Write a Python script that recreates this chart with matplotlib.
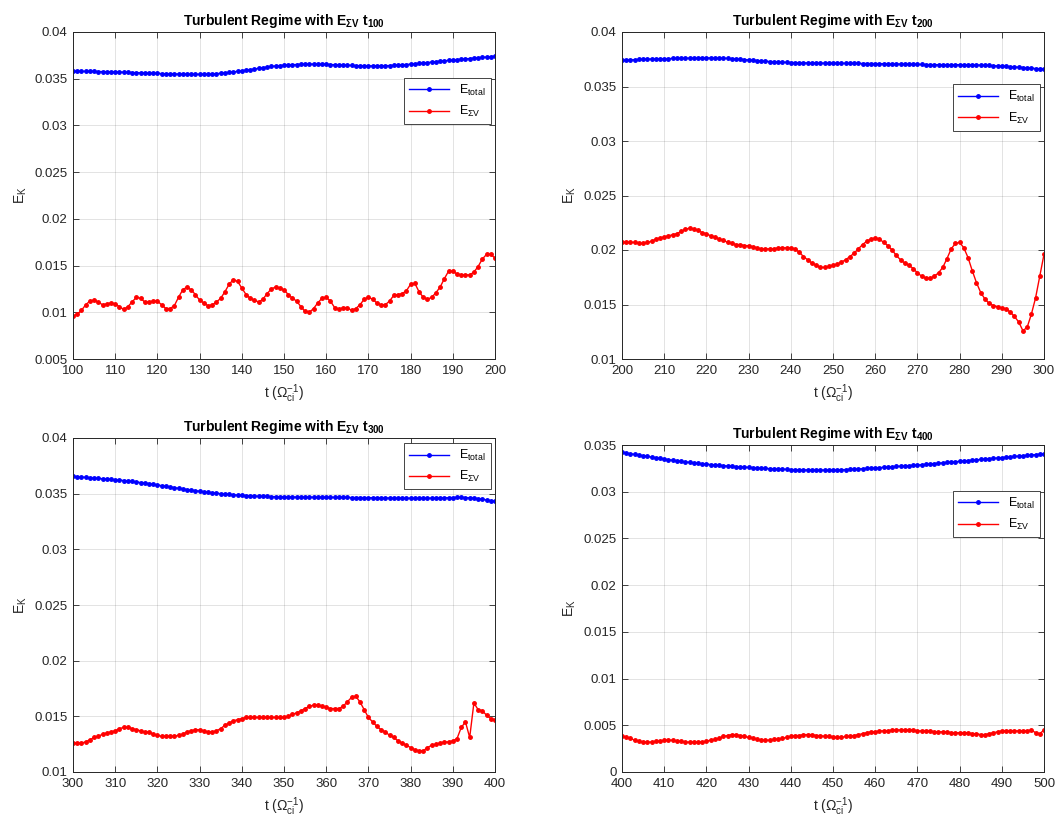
import numpy as np
import matplotlib
matplotlib.use('Agg')
import matplotlib.pyplot as plt
from matplotlib.ticker import MultipleLocator, FuncFormatter

plt.rcParams['font.family'] = ['Liberation Sans', 'DejaVu Sans']
plt.rcParams['mathtext.fontset'] = 'custom'
plt.rcParams['mathtext.rm'] = 'Liberation Sans'
plt.rcParams['mathtext.it'] = 'Liberation Sans'
plt.rcParams['mathtext.bf'] = 'Liberation Sans:bold'

# start time of each window (one sample per unit of time, 101 samples)
t_starts = [100, 200, 300, 400]

e_total_100 = [
    0.03580, 0.03580, 0.03579, 0.03579, 0.03578, 0.03578, 0.03577, 0.03576, 0.03575, 0.03574,
    0.03573, 0.03571, 0.03570, 0.03568, 0.03566, 0.03565, 0.03563, 0.03561, 0.03559, 0.03558,
    0.03557, 0.03555, 0.03553, 0.03552, 0.03551, 0.03550, 0.03549, 0.03548, 0.03547, 0.03547,
    0.03547, 0.03548, 0.03549, 0.03551, 0.03554, 0.03558, 0.03562, 0.03567, 0.03573, 0.03579,
    0.03585, 0.03591, 0.03597, 0.03604, 0.03611, 0.03618, 0.03625, 0.03631, 0.03636, 0.03640,
    0.03644, 0.03647, 0.03650, 0.03652, 0.03654, 0.03655, 0.03656, 0.03656, 0.03656, 0.03655,
    0.03654, 0.03652, 0.03650, 0.03648, 0.03646, 0.03644, 0.03642, 0.03640, 0.03639, 0.03638,
    0.03637, 0.03637, 0.03637, 0.03638, 0.03639, 0.03641, 0.03643, 0.03646, 0.03649, 0.03652,
    0.03656, 0.03660, 0.03664, 0.03668, 0.03673, 0.03678, 0.03683, 0.03688, 0.03692, 0.03696,
    0.03700, 0.03704, 0.03708, 0.03712, 0.03716, 0.03720, 0.03724, 0.03728, 0.03732, 0.03736,
    0.03740]
e_sv_100 = [
    0.0096, 0.0098, 0.0102, 0.0108, 0.0112, 0.0113, 0.0111, 0.0108, 0.0109, 0.0110,
    0.0109, 0.0106, 0.0103, 0.0106, 0.0111, 0.0116, 0.0115, 0.0111, 0.0111, 0.0112,
    0.0112, 0.0108, 0.0104, 0.0104, 0.0107, 0.0116, 0.0124, 0.0127, 0.0124, 0.0119,
    0.0113, 0.0110, 0.0107, 0.0108, 0.0111, 0.0115, 0.0122, 0.0130, 0.0135, 0.0133,
    0.0126, 0.0119, 0.0115, 0.0113, 0.0111, 0.0114, 0.0120, 0.0125, 0.0127, 0.0126,
    0.0124, 0.0119, 0.0115, 0.0112, 0.0106, 0.0101, 0.0100, 0.0104, 0.0110, 0.0115,
    0.0116, 0.0112, 0.0105, 0.0103, 0.0105, 0.0105, 0.0102, 0.0104, 0.0108, 0.0114,
    0.0116, 0.0114, 0.0110, 0.0108, 0.0108, 0.0112, 0.0118, 0.0119, 0.0120, 0.0123,
    0.0130, 0.0131, 0.0122, 0.0116, 0.0114, 0.0116, 0.0121, 0.0127, 0.0136, 0.0144,
    0.0144, 0.0141, 0.0140, 0.0140, 0.0140, 0.0143, 0.0149, 0.0157, 0.0162, 0.0162,
    0.0158]

e_total_200 = [
    0.03740, 0.03742, 0.03744, 0.03746, 0.03748, 0.03750, 0.03751, 0.03752, 0.03753, 0.03754,
    0.03755, 0.03756, 0.03757, 0.03758, 0.03759, 0.03760, 0.03760, 0.03761, 0.03761, 0.03762,
    0.03762, 0.03762, 0.03761, 0.03760, 0.03759, 0.03758, 0.03756, 0.03753, 0.03750, 0.03747,
    0.03744, 0.03741, 0.03738, 0.03735, 0.03732, 0.03729, 0.03727, 0.03725, 0.03723, 0.03721,
    0.03720, 0.03719, 0.03718, 0.03717, 0.03716, 0.03715, 0.03715, 0.03714, 0.03714, 0.03714,
    0.03713, 0.03713, 0.03713, 0.03712, 0.03712, 0.03712, 0.03712, 0.03711, 0.03711, 0.03710,
    0.03710, 0.03709, 0.03709, 0.03708, 0.03707, 0.03706, 0.03706, 0.03705, 0.03704, 0.03703,
    0.03703, 0.03702, 0.03701, 0.03701, 0.03700, 0.03700, 0.03700, 0.03700, 0.03700, 0.03700,
    0.03700, 0.03699, 0.03699, 0.03698, 0.03697, 0.03696, 0.03695, 0.03693, 0.03691, 0.03689,
    0.03687, 0.03685, 0.03682, 0.03679, 0.03677, 0.03674, 0.03671, 0.03668, 0.03665, 0.03662,
    0.03659]
e_sv_200 = [
    0.0207, 0.0207, 0.0207, 0.0207, 0.0206, 0.0206, 0.0207, 0.0208, 0.0210, 0.0211,
    0.0212, 0.0213, 0.0214, 0.0215, 0.0217, 0.0219, 0.0220, 0.0219, 0.0218, 0.0216,
    0.0215, 0.0213, 0.0212, 0.0210, 0.0209, 0.0207, 0.0206, 0.0205, 0.0205, 0.0204,
    0.0204, 0.0203, 0.0202, 0.0201, 0.0201, 0.0201, 0.0201, 0.0202, 0.0202, 0.0202,
    0.0202, 0.0201, 0.0198, 0.0194, 0.0191, 0.0188, 0.0186, 0.0184, 0.0184, 0.0185,
    0.0186, 0.0187, 0.0189, 0.0191, 0.0194, 0.0197, 0.0201, 0.0205, 0.0208, 0.0210,
    0.0211, 0.0210, 0.0207, 0.0204, 0.0200, 0.0195, 0.0191, 0.0188, 0.0186, 0.0183,
    0.0179, 0.0176, 0.0174, 0.0174, 0.0176, 0.0179, 0.0184, 0.0192, 0.0201, 0.0206,
    0.0207, 0.0202, 0.0193, 0.0181, 0.0170, 0.0161, 0.0155, 0.0151, 0.0149, 0.0148,
    0.0147, 0.0146, 0.0143, 0.0139, 0.0134, 0.0126, 0.0129, 0.0141, 0.0156, 0.0176,
    0.0196]

e_total_300 = [
    0.03655, 0.03652, 0.03649, 0.03646, 0.03643, 0.03640, 0.03637, 0.03634, 0.03631, 0.03628,
    0.03625, 0.03622, 0.03618, 0.03614, 0.03610, 0.03605, 0.03600, 0.03595, 0.03590, 0.03584,
    0.03578, 0.03572, 0.03566, 0.03560, 0.03554, 0.03548, 0.03542, 0.03537, 0.03532, 0.03527,
    0.03522, 0.03517, 0.03512, 0.03508, 0.03504, 0.03500, 0.03496, 0.03493, 0.03490, 0.03487,
    0.03485, 0.03483, 0.03481, 0.03479, 0.03477, 0.03476, 0.03475, 0.03474, 0.03473, 0.03472,
    0.03471, 0.03470, 0.03470, 0.03469, 0.03469, 0.03468, 0.03468, 0.03468, 0.03467, 0.03467,
    0.03467, 0.03467, 0.03466, 0.03466, 0.03466, 0.03466, 0.03465, 0.03465, 0.03465, 0.03464,
    0.03464, 0.03463, 0.03463, 0.03462, 0.03462, 0.03461, 0.03460, 0.03460, 0.03459, 0.03459,
    0.03459, 0.03459, 0.03459, 0.03459, 0.03460, 0.03460, 0.03461, 0.03462, 0.03463, 0.03464,
    0.03465, 0.03466, 0.03466, 0.03465, 0.03463, 0.03460, 0.03456, 0.03450, 0.03444, 0.03437,
    0.03430]
e_sv_300 = [
    0.0126, 0.0126, 0.0126, 0.0127, 0.0129, 0.0131, 0.0132, 0.0134, 0.0135, 0.0136,
    0.0137, 0.0139, 0.0140, 0.0140, 0.0139, 0.0138, 0.0137, 0.0136, 0.0136, 0.0134,
    0.0133, 0.0132, 0.0132, 0.0132, 0.0132, 0.0133, 0.0134, 0.0136, 0.0137, 0.0138,
    0.0138, 0.0137, 0.0136, 0.0136, 0.0137, 0.0139, 0.0142, 0.0144, 0.0146, 0.0147,
    0.0148, 0.0149, 0.0149, 0.0149, 0.0149, 0.0149, 0.0149, 0.0149, 0.0149, 0.0149,
    0.0149, 0.0150, 0.0152, 0.0153, 0.0155, 0.0157, 0.0159, 0.0160, 0.0160, 0.0159,
    0.0158, 0.0157, 0.0157, 0.0157, 0.0159, 0.0163, 0.0167, 0.0168, 0.0163, 0.0156,
    0.0149, 0.0145, 0.0141, 0.0138, 0.0136, 0.0133, 0.0131, 0.0128, 0.0126, 0.0124,
    0.0122, 0.0120, 0.0119, 0.0119, 0.0122, 0.0124, 0.0125, 0.0126, 0.0127, 0.0127,
    0.0128, 0.0130, 0.0140, 0.0145, 0.0131, 0.0162, 0.0156, 0.0155, 0.0151, 0.0148,
    0.0147]

e_total_400 = [
    0.03420, 0.03413, 0.03406, 0.03399, 0.03392, 0.03385, 0.03378, 0.03371, 0.03364, 0.03357,
    0.03350, 0.03343, 0.03337, 0.03331, 0.03325, 0.03319, 0.03314, 0.03309, 0.03304, 0.03299,
    0.03295, 0.03291, 0.03287, 0.03283, 0.03279, 0.03275, 0.03272, 0.03269, 0.03266, 0.03263,
    0.03260, 0.03257, 0.03254, 0.03251, 0.03249, 0.03247, 0.03245, 0.03243, 0.03241, 0.03239,
    0.03237, 0.03236, 0.03235, 0.03234, 0.03233, 0.03232, 0.03232, 0.03232, 0.03232, 0.03232,
    0.03233, 0.03234, 0.03235, 0.03237, 0.03239, 0.03241, 0.03243, 0.03246, 0.03249, 0.03252,
    0.03255, 0.03258, 0.03261, 0.03264, 0.03267, 0.03270, 0.03273, 0.03276, 0.03279, 0.03282,
    0.03285, 0.03289, 0.03293, 0.03297, 0.03301, 0.03305, 0.03309, 0.03313, 0.03317, 0.03321,
    0.03325, 0.03329, 0.03333, 0.03337, 0.03341, 0.03345, 0.03349, 0.03353, 0.03357, 0.03361,
    0.03365, 0.03369, 0.03373, 0.03377, 0.03381, 0.03385, 0.03389, 0.03393, 0.03397, 0.03401,
    0.03405]
e_sv_400 = [
    0.0038, 0.0037, 0.0036, 0.0034, 0.0033, 0.0032, 0.0032, 0.0032, 0.0033, 0.0033,
    0.0034, 0.0034, 0.0034, 0.0033, 0.0033, 0.0032, 0.0032, 0.0032, 0.0032, 0.0032,
    0.0033, 0.0034, 0.0035, 0.0036, 0.0038, 0.0039, 0.0040, 0.0040, 0.0039, 0.0038,
    0.0037, 0.0036, 0.0035, 0.0034, 0.0034, 0.0034, 0.0035, 0.0035, 0.0036, 0.0037,
    0.0038, 0.0039, 0.0039, 0.0040, 0.0040, 0.0040, 0.0039, 0.0039, 0.0038, 0.0038,
    0.0037, 0.0037, 0.0037, 0.0038, 0.0038, 0.0039, 0.0040, 0.0041, 0.0042, 0.0043,
    0.0043, 0.0044, 0.0044, 0.0044, 0.0045, 0.0045, 0.0045, 0.0045, 0.0045, 0.0045,
    0.0044, 0.0044, 0.0044, 0.0044, 0.0043, 0.0043, 0.0043, 0.0043, 0.0042, 0.0042,
    0.0042, 0.0042, 0.0042, 0.0041, 0.0041, 0.0040, 0.0040, 0.0041, 0.0042, 0.0043,
    0.0044, 0.0044, 0.0044, 0.0044, 0.0044, 0.0044, 0.0044, 0.0045, 0.0042, 0.0041,
    0.0045]

totals = [e_total_100, e_total_200, e_total_300, e_total_400]
svs = [e_sv_100, e_sv_200, e_sv_300, e_sv_400]
y_limits = [(0.005, 0.04), (0.01, 0.04), (0.01, 0.04), (0.0, 0.035)]

# axes boxes in pixels: left, top, right, bottom
boxes = [(73, 32, 495, 359), (622, 32, 1044, 359),
         (73, 438, 495, 772), (622, 445, 1044, 772)]
legend_tops = [0.86, 0.84, 0.985, 0.86]

W, H = 1062, 825
fig = plt.figure(figsize=(W / 100, H / 100), dpi=100)
dark = '#262626'

for i in range(4):
    l, t, r, b = boxes[i]
    ax = fig.add_axes([l / W, (H - b) / H, (r - l) / W, (b - t) / H])
    t0 = t_starts[i]
    time = np.arange(t0, t0 + len(totals[i]))
    ax.plot(time, totals[i], '-', color='b', marker='.', markersize=5, lw=1,
            label=r'E$_{\mathrm{total}}$')
    ax.plot(time, svs[i], '-', color='r', marker='.', markersize=5, lw=1,
            label=r'E$_{\mathrm{ΣV}}$')
    ax.set_xlim(t0, t0 + 100)
    ax.set_ylim(*y_limits[i])
    ax.xaxis.set_major_locator(MultipleLocator(10))
    ax.yaxis.set_major_locator(MultipleLocator(0.005))
    ax.yaxis.set_major_formatter(FuncFormatter(lambda v, p: '%g' % round(v, 4)))
    ax.tick_params(direction='in', top=True, right=True, length=4, width=0.6,
                   labelsize=9.5, colors=dark, pad=4)
    for s in ax.spines.values():
        s.set_color(dark)
        s.set_linewidth(0.7)
    ax.grid(True, color=dark, alpha=0.15, lw=0.6)
    ax.set_title(r'Turbulent Regime with E$_{\mathbf{ΣV}}$ t$_{\mathbf{%d}}$' % t0,
                 fontsize=10, fontweight='bold', pad=5)
    ax.set_xlabel(r't (Ω$_{\mathrm{ci}}^{-1}$)', fontsize=10, color=dark)
    ax.set_ylabel(r'E$_{\mathrm{K}}$', fontsize=10, color=dark)
    leg = ax.legend(loc='upper right', bbox_to_anchor=(0.99, legend_tops[i]),
                    fontsize=9, handlelength=3.2, fancybox=False, framealpha=1,
                    edgecolor=dark, borderaxespad=0, labelspacing=0.5)
    leg.get_frame().set_linewidth(0.6)

fig.savefig('out.png', dpi=100)
